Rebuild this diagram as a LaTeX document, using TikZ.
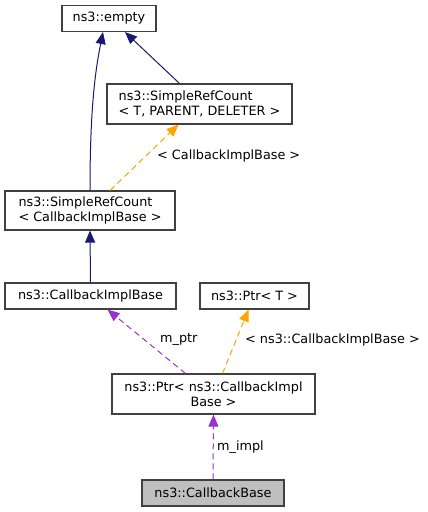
\documentclass[tikz,border=0pt]{standalone}
\usepackage{fontspec}
\setmainfont{DejaVu Sans}
\usetikzlibrary{arrows.meta}
\usetikzlibrary{positioning}

\definecolor{boxline}{RGB}{64,64,64}
\definecolor{inheritcol}{RGB}{25,25,112}
\definecolor{templcol}{RGB}{255,165,0}
\definecolor{usecol}{RGB}{154,50,205}

\tikzset{
  cls/.style={draw=boxline, line width=1.1pt, inner sep=0pt, minimum height=26, font=\fontsize{12.8}{14.5}\selectfont},
  inherit/.style={draw=inheritcol, line width=1pt, -{Triangle[length=12,width=10]}},
  templ/.style={draw=templcol, line width=1pt, dash pattern=on 6 off 4, -{Triangle[length=12,width=10]}},
  usage/.style={draw=usecol, line width=1pt, dash pattern=on 6 off 4, -{Triangle[length=12,width=10]}},
  lbl/.style={inner sep=0pt, anchor=west, font=\fontsize{12.8}{14.5}\selectfont}
}

\begin{document}
\begin{tikzpicture}[x=1pt,y=-1pt]
\useasboundingbox (0,0) rectangle (428,512);
\node[cls, minimum width=94] (empty) at (109,18.5) {ns3::empty};
\node[cls, minimum width=185, minimum height=40, align=left] (srct) at (199.5,104) {ns3::SimpleRefCount\\< T, PARENT, DELETER >};
\node[cls, minimum width=170, minimum height=39, align=left] (srccib) at (90,210.5) {ns3::SimpleRefCount\\< CallbackImplBase >};
\node[cls, minimum width=171] (cib) at (90.5,296) {ns3::CallbackImplBase};
\node[cls, minimum width=109] (ptrt) at (254.5,296) {ns3::Ptr< T >};
\node[cls, minimum width=203, minimum height=40, align=center] (ptrcib) at (213.5,394) {ns3::Ptr< ns3::CallbackImpl\\Base >};
\node[cls, minimum width=142, fill={rgb,255:red,191;green,191;blue,191}] (cbase) at (213,493) {ns3::CallbackBase};

\draw[inherit] (srccib.north) .. controls +(0,-80) and +(-8,40) .. ([xshift=-6]empty.south);
\draw[inherit] ([xshift=-20]srct.north) -- ([xshift=16]empty.south);
\draw[templ] ([xshift=20]srccib.north) -- ([xshift=-21]srct.south);
\node[lbl] (lcib) at (157,156) {< CallbackImplBase >};
\draw[inherit] (cib.north) -- (srccib.south);
\draw[usage] ([xshift=-28]ptrcib.north) -- ([xshift=17]cib.south);
\node[lbl] (lptr) at (160,340) {m\_ptr};
\draw[templ] ([xshift=9]ptrcib.north) -- ([xshift=-6]ptrt.south);
\node[lbl] (lptrt) at (245,340) {< ns3::CallbackImplBase >};
\draw[usage] (cbase.north) -- (ptrcib.south);
\node[lbl] (limpl) at (217,447) {m\_impl};
\end{tikzpicture}
\end{document}
